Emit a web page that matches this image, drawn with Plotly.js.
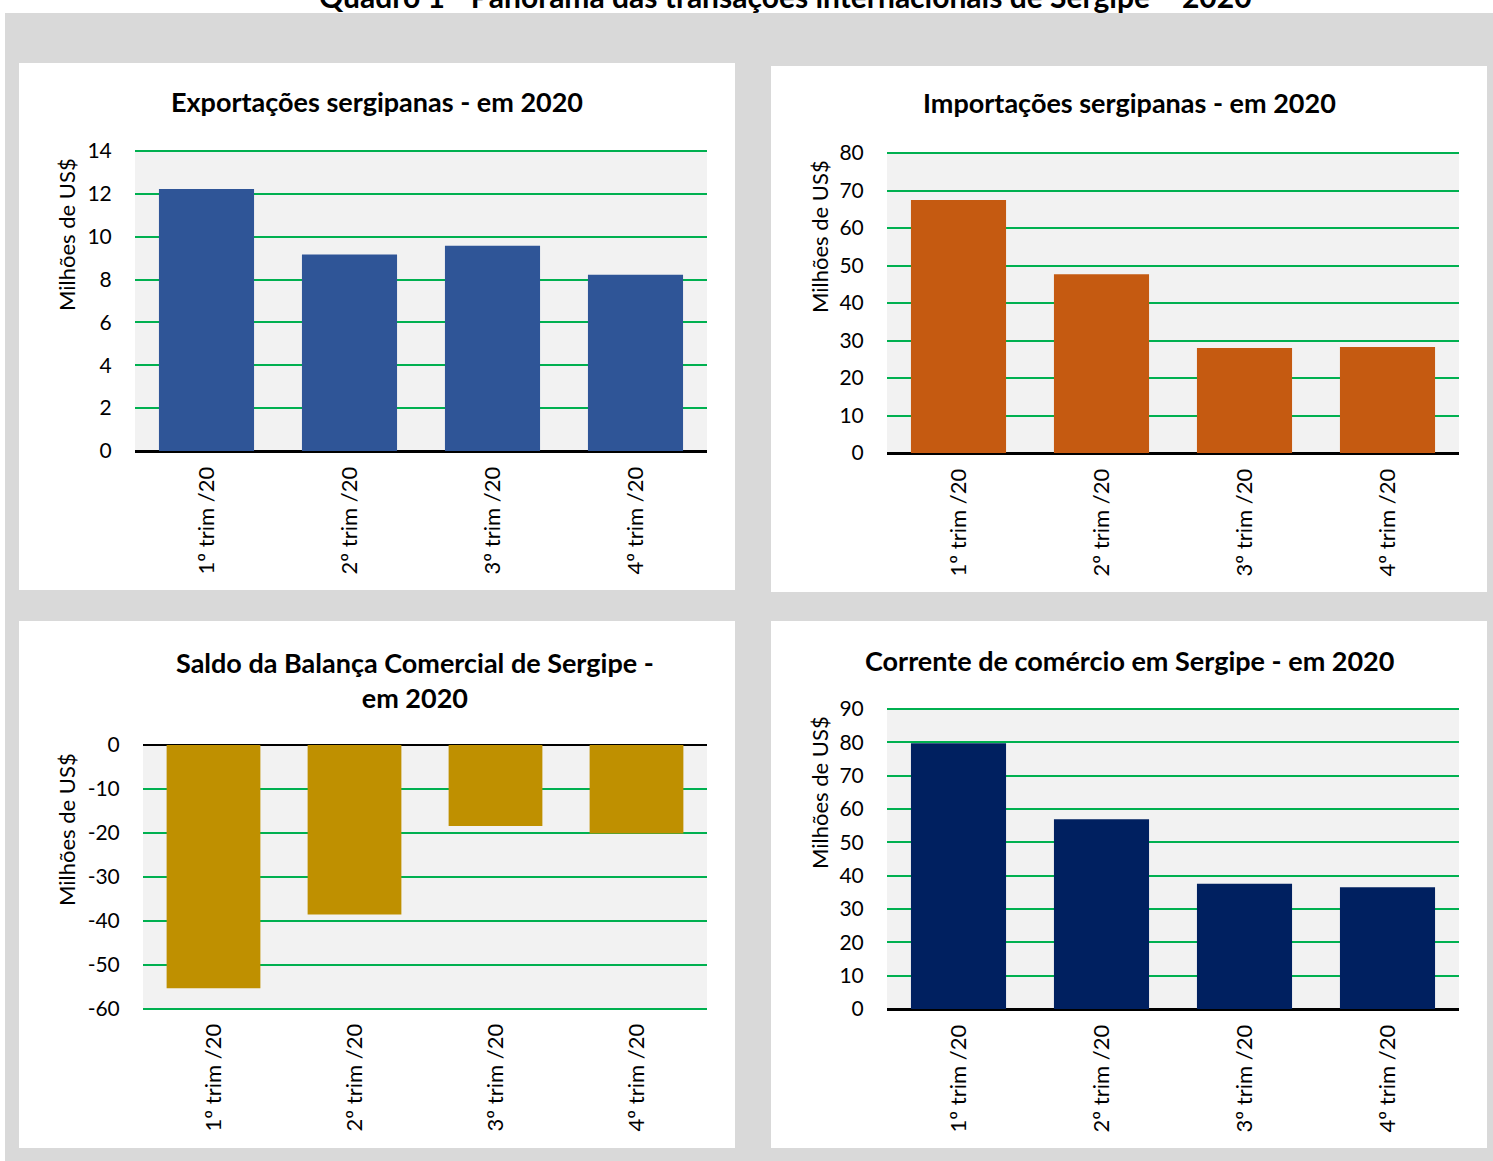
<!DOCTYPE html>
<html>
<head>
<meta charset="utf-8">
<script src="https://cdn.plot.ly/plotly-3.0.1.min.js"></script>
<style>html,body{margin:0;padding:0;background:#fff;}#chart{width:1493px;height:1161px;}</style>
</head>
<body>
<div id="chart"></div>
<script>
const categories = ["1º trim /20", "2º trim /20", "3º trim /20", "4º trim /20"];
const exportacoes = [12.23, 9.17, 9.58, 8.22];
const importacoes = [67.5, 47.7, 28.0, 28.3];
const saldo = [-55.3, -38.5, -18.4, -20.1];
const corrente = [79.7, 56.9, 37.6, 36.5];
const ticksExport = [0, 2, 4, 6, 8, 10, 12, 14];
const ticksImport = [0, 10, 20, 30, 40, 50, 60, 70, 80];
const ticksSaldo = [-60, -50, -40, -30, -20, -10, 0];
const ticksCorrente = [0, 10, 20, 30, 40, 50, 60, 70, 80, 90];
const mainTitle = "Quadro 1 - Panorama das transações internacionais de Sergipe – 2020";
const chartTitles = ["Exportações sergipanas - em 2020", "Importações sergipanas - em 2020", "Saldo da Balança Comercial de Sergipe -<br>em 2020", "Corrente de comércio em Sergipe - em 2020"];
const yTitle = "Milhões de US$";

const W = 1493, H = 1161;
const px = x => x / W;
const py = y => 1 - y / H;
const FONT = "Lato, Carlito, Calibri, sans-serif";

const colors = ["#2f5597", "#c55a11", "#bf9000", "#002060"];
const series = [exportacoes, importacoes, saldo, corrente];
const tickSets = [ticksExport, ticksImport, ticksSaldo, ticksCorrente];
const plots = [
  {x0: 135, x1: 707, y0: 151, y1: 451},
  {x0: 887, x1: 1459, y0: 153, y1: 453},
  {x0: 143, x1: 707, y0: 745, y1: 1009},
  {x0: 887, x1: 1459, y0: 709, y1: 1009}
];

const data = [];
const layout = {
  width: W, height: H,
  margin: {l: 0, r: 0, t: 0, b: 0},
  paper_bgcolor: "#ffffff",
  showlegend: false,
  bargap: 0.335,
  font: {family: FONT, color: "#000000"},
  shapes: [],
  annotations: []
};

// background frame and panels
layout.shapes.push({type: "rect", xref: "paper", yref: "paper", x0: px(5), x1: px(1493), y0: py(1161), y1: py(13), fillcolor: "#d9d9d9", line: {width: 0}, layer: "below"});
const panels = [[19, 63, 735, 590], [771, 66, 1487, 592], [19, 621, 735, 1148], [771, 621, 1487, 1148]];
panels.forEach(p => layout.shapes.push({type: "rect", xref: "paper", yref: "paper", x0: px(p[0]), x1: px(p[2]), y0: py(p[3]), y1: py(p[1]), fillcolor: "#ffffff", line: {width: 0}, layer: "below"}));

plots.forEach((p, i) => {
  const n = i === 0 ? "" : String(i + 1);
  const ticks = tickSets[i];
  const tmin = Math.min(...ticks), tmax = Math.max(...ticks);
  data.push({
    type: "bar", x: categories, y: series[i],
    xaxis: "x" + n, yaxis: "y" + n,
    marker: {color: colors[i], line: {width: 0}},
    hoverinfo: "x+y"
  });
  layout["xaxis" + n] = {
    domain: [px(p.x0), px(p.x1)],
    anchor: "y" + n,
    type: "category",
    showgrid: false,
    zeroline: false,
    showline: i !== 2,
    linecolor: "#000000",
    linewidth: 2,
    ticks: "outside", ticklen: 5, tickcolor: "rgba(0,0,0,0)",
    tickangle: -90,
    tickfont: {family: FONT, size: 22, color: "#000000"},
    fixedrange: true
  };
  layout["yaxis" + n] = {
    domain: [py(p.y1), py(p.y0)],
    anchor: "x" + n,
    range: [tmin, tmax],
    tickmode: "array",
    tickvals: ticks,
    ticktext: ticks.map(v => String(v)),
    showgrid: true,
    gridcolor: "#00b050",
    gridwidth: 2,
    zeroline: true,
    zerolinecolor: "#000000",
    zerolinewidth: 2,
    showline: false,
    ticks: "outside", ticklen: 18, tickcolor: "rgba(0,0,0,0)",
    tickfont: {family: FONT, size: 21, color: "#000000"},
    fixedrange: true
  };
  layout.shapes.push({type: "rect", xref: "paper", yref: "paper", x0: px(p.x0), x1: px(p.x1), y0: py(p.y1), y1: py(p.y0), fillcolor: "#f2f2f2", line: {width: 0}, layer: "below"});
  // edge gridline at the plot border opposite to zero, which plotly omits
  const edgeY = tmax === 0 ? p.y1 : p.y0;
  layout.shapes.push({type: "line", xref: "paper", yref: "paper", x0: px(p.x0), x1: px(p.x1), y0: py(edgeY), y1: py(edgeY), line: {color: "#00b050", width: 2}, layer: "above"});
});

// titles
layout.annotations.push({text: "<b>" + mainTitle + "</b>", xref: "paper", yref: "paper", x: px(785), y: py(-4), xanchor: "center", yanchor: "middle", showarrow: false, font: {family: FONT, size: 30, color: "#000000"}});
const titlePos = [[377, 101], [1129, 103], [415, 680], [1129, 660]];
chartTitles.forEach((t, i) => {
  layout.annotations.push({text: "<b>" + t + "</b>", xref: "paper", yref: "paper", x: px(titlePos[i][0]), y: py(titlePos[i][1]), xanchor: "center", yanchor: "middle", showarrow: false, font: {family: FONT, size: 27, color: "#000000"}});
});
const yTitlePos = [[67, 235], [819, 237], [67, 830], [819, 793]];
yTitlePos.forEach(pos => {
  layout.annotations.push({text: yTitle, xref: "paper", yref: "paper", x: px(pos[0]), y: py(pos[1]), xanchor: "center", yanchor: "middle", textangle: -90, showarrow: false, font: {family: FONT, size: 22, color: "#000000"}});
});

Plotly.newPlot("chart", data, layout, {displayModeBar: false, staticPlot: true});
</script>
</body>
</html>
